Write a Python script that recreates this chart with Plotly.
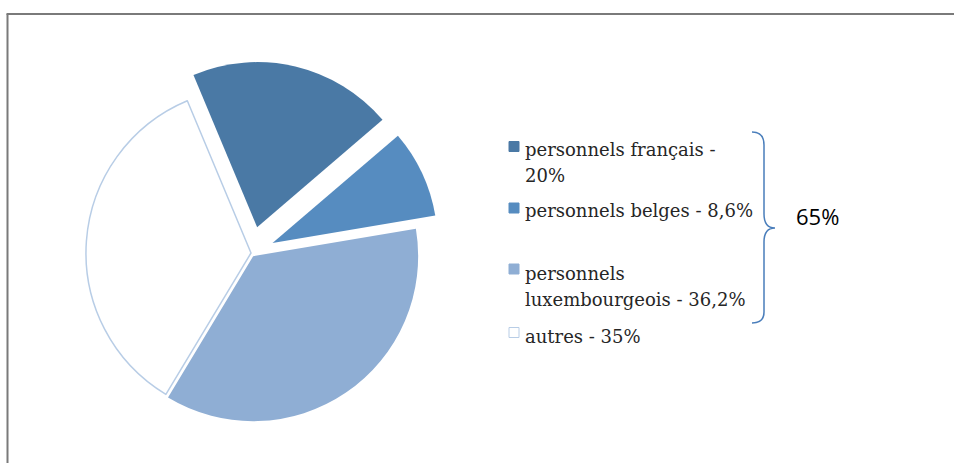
import textwrap
import plotly.graph_objects as go

# Data
labels = ["personnels français", "personnels belges", "personnels luxembourgeois", "autres"]
values = [20, 8.6, 36.2, 35]
value_text = ["20%", "8,6%", "36,2%", "35%"]
group_total = "65%"

colors = ["#4a79a5", "#568cc0", "#8faed4", "#ffffff"]

W, H = 954, 463


def px_x(x):
    return x / W


def px_y(y):
    return 1 - y / H


fig = go.Figure(go.Pie(
    labels=labels,
    values=values,
    sort=False,
    direction="clockwise",
    rotation=-22.7,
    pull=[0.161, 0.144, 0.023, 0],
    textinfo="none",
    hoverinfo="label+percent",
    marker=dict(colors=colors,
                line=dict(color=["#4a79a5", "#568cc0", "#8faed4", "#b8cde6"],
                          width=[0, 0, 0, 1.5])),
    domain=dict(x=[0.06226, 0.46394], y=[0.03974, 0.86738]),
    showlegend=False,
))

# legend drawn by hand so the line spacing follows the original
legend_lines = [textwrap.wrap(f"{l} - {v}", 24) for l, v in zip(labels, value_text)]
line_y = [[149, 175], [210.5], [273, 299], [336]]
swatch_y = [146.5, 208, 269, 332.5]

shapes = []
annotations = []
for i, lines in enumerate(legend_lines):
    border = "#b8cde6" if colors[i] == "#ffffff" else colors[i]
    shapes.append(dict(type="rect", xref="paper", yref="paper",
                       x0=px_x(509), x1=px_x(519),
                       y0=px_y(swatch_y[i] - 5), y1=px_y(swatch_y[i] + 5),
                       fillcolor=colors[i], line=dict(color=border, width=1)))
    for txt, y in zip(lines, line_y[i]):
        annotations.append(dict(text=txt, xref="paper", yref="paper",
                                x=px_x(523), y=px_y(y), xanchor="left", yanchor="middle",
                                showarrow=False,
                                font=dict(family="DejaVu Serif", size=18, color="#262626")))

# curly brace
pts = [(752, 132), (760, 132), (764, 136), (764, 145), (764, 214),
       (764, 223), (768, 228), (775, 228), (768, 228), (764, 233), (764, 242),
       (764, 312), (764, 320), (760, 323), (752, 323)]
p = [f"{px_x(x):.5f},{px_y(y):.5f}" for x, y in pts]
path = (f"M {p[0]} C {p[1]} {p[2]} {p[3]} L {p[4]} C {p[5]} {p[6]} {p[7]} "
        f"C {p[8]} {p[9]} {p[10]} L {p[11]} C {p[12]} {p[13]} {p[14]}")
shapes.append(dict(type="path", xref="paper", yref="paper", path=path,
                   line=dict(color="#4a7ebb", width=1.5)))

annotations.append(dict(text=group_total, xref="paper", yref="paper",
                        x=px_x(794), y=px_y(216), xanchor="left", yanchor="middle",
                        showarrow=False,
                        font=dict(family="Open Sans", size=22, color="#000000")))

# chart frame (left and top edges visible)
shapes.append(dict(type="line", xref="paper", yref="paper",
                   x0=px_x(7.5), x1=px_x(7.5), y0=px_y(14), y1=px_y(470),
                   line=dict(color="#7a7a7a", width=2)))
shapes.append(dict(type="line", xref="paper", yref="paper",
                   x0=px_x(6.5), x1=px_x(960), y0=px_y(14), y1=px_y(14),
                   line=dict(color="#7a7a7a", width=2)))

fig.update_layout(
    width=W, height=H,
    margin=dict(l=0, r=0, t=0, b=0),
    paper_bgcolor="white",
    plot_bgcolor="white",
    shapes=shapes,
    annotations=annotations,
)

# drop the default page margin so the figure sits at the window's corner
fig.write_html("out.html", config={"displayModeBar": False},
               post_script="document.body.style.margin='0';")
